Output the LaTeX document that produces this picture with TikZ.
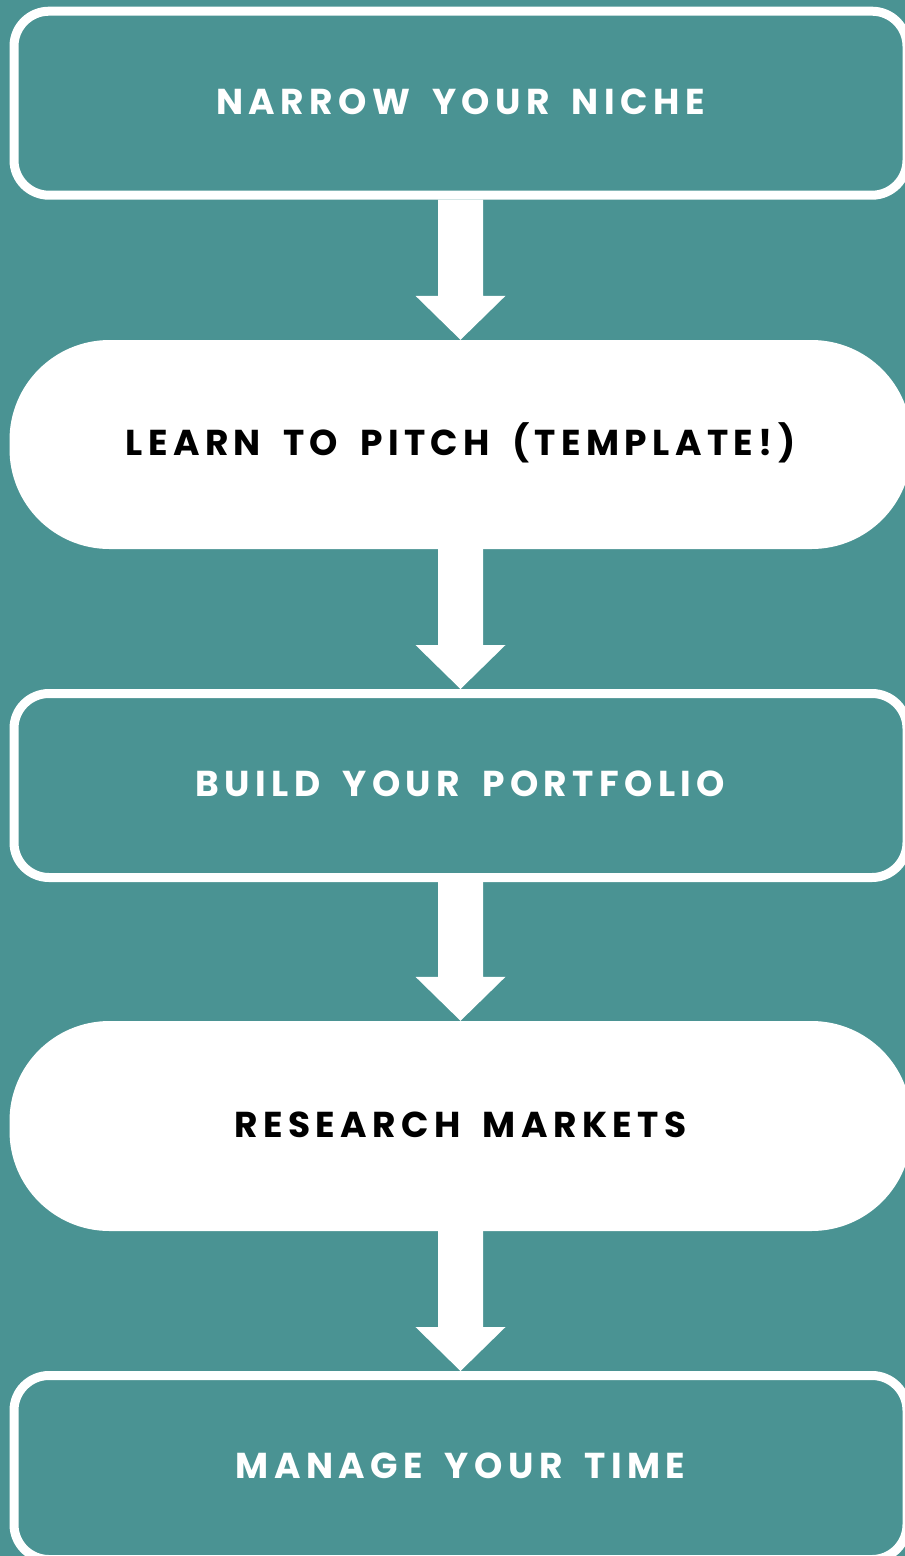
\documentclass[tikz,border=0pt]{standalone}
\usepackage{fontspec}
\setmainfont{Poppins}[LetterSpace=15,WordSpace=1.7]
\usetikzlibrary{calc}
\definecolor{teal}{HTML}{4A9393}
\tikzset{
  stepbox/.style={rectangle, draw=white, line width=9pt, rounded corners=35pt,
    minimum width=893pt, minimum height=184pt, inner sep=0pt,
    text=white, text height=26pt, text depth=4pt,
    font=\bfseries\fontsize{36}{40}\selectfont},
  pillbox/.style={rectangle, fill=white, rounded corners=100pt,
    minimum width=902pt, inner sep=0pt,
    text=black, text height=26pt, text depth=4pt,
    font=\bfseries\fontsize{36}{40}\selectfont},
}
\newcommand\flowarrow[2]{%
  \fill[white] let \p1=(#1.south), \p2=(#2.north) in
    (\x1-22.5pt,\y1) -- (\x1-22.5pt,\y2+44pt) -- (\x1-45pt,\y2+44pt) --
    (\x1,\y2) -- (\x1+45pt,\y2+44pt) -- (\x1+22.5pt,\y2+44pt) --
    (\x1+22.5pt,\y1) -- cycle;}
\begin{document}
\begin{tikzpicture}[x=1pt,y=-1pt]
\fill[teal] (0,0) rectangle (905,1556);
\useasboundingbox (0,0) rectangle (905,1556);
\node[stepbox] (b1) at (460.5,103.2) {NARROW YOUR NICHE};
\node[pillbox, minimum height=209pt] (b2) at (460.5,444.5) {LEARN TO PITCH (TEMPLATE!)};
\node[stepbox] (b3) at (460.5,785.5) {BUILD YOUR PORTFOLIO};
\node[pillbox, minimum height=210pt] (b4) at (460.5,1126) {RESEARCH MARKETS};
\node[stepbox] (b5) at (460.5,1467.5) {MANAGE YOUR TIME};
\flowarrow{b1}{b2}
\flowarrow{b2}{b3}
\flowarrow{b3}{b4}
\flowarrow{b4}{b5}
\end{tikzpicture}
\end{document}
